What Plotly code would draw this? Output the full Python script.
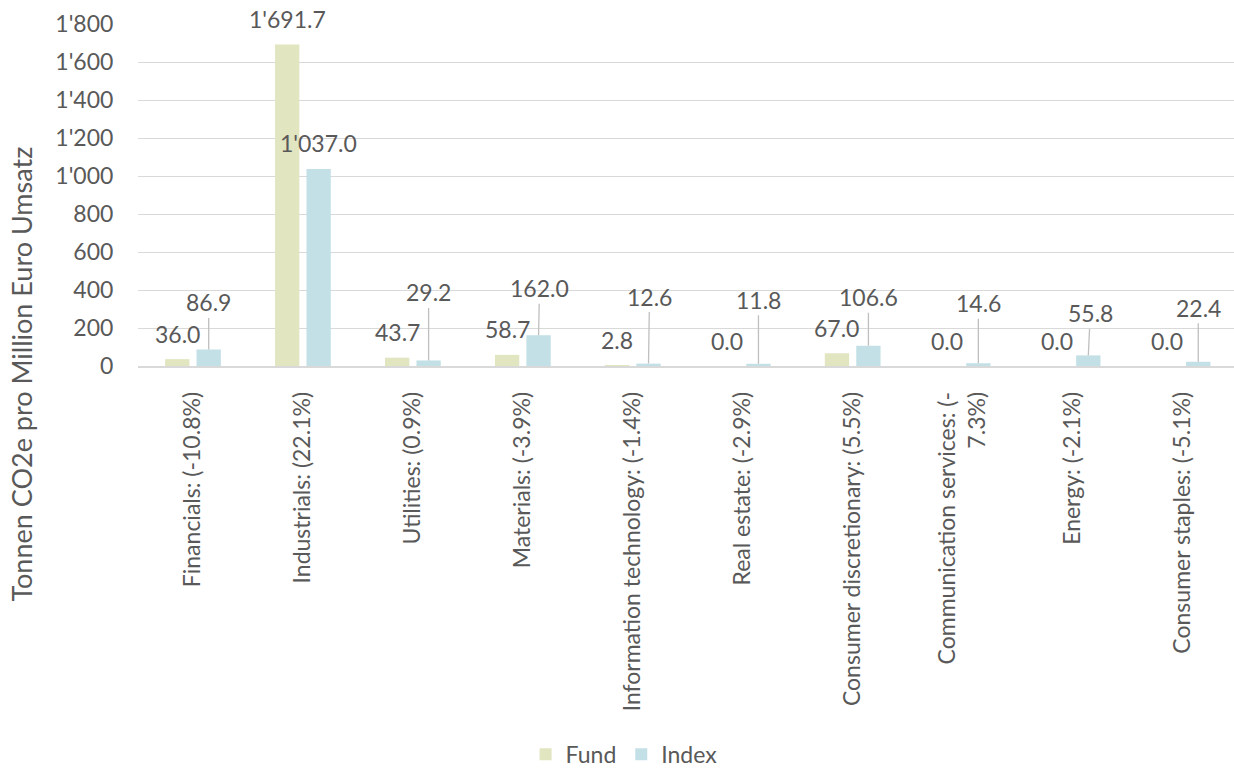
import plotly.graph_objects as go

categories = [
    "Financials: (-10.8%)",
    "Industrials: (22.1%)",
    "Utilities: (0.9%)",
    "Materials: (-3.9%)",
    "Information technology: (-1.4%)",
    "Real estate: (-2.9%)",
    "Consumer discretionary: (5.5%)",
    "Communication services: (-<br>7.3%)",
    "Energy: (-2.1%)",
    "Consumer staples: (-5.1%)",
]
fund = [36.0, 1691.7, 43.7, 58.7, 2.8, 0.0, 67.0, 0.0, 0.0, 0.0]
index_vals = [86.9, 1037.0, 29.2, 162.0, 12.6, 11.8, 106.6, 14.6, 55.8, 22.4]
y_ticks = [0, 200, 400, 600, 800, 1000, 1200, 1400, 1600, 1800]

# label placement (pixels above bar top, horizontal shift) – Excel-style leader lines
index_label_lift = [47, 25.5, 68, 47, 67, 64, 48.5, 60, 42, 54]
index_label_dx = [0, 0, 0, 1, 1, 0, 0, 0, 2, 0]
fund_label_lift = 25.5

FONT = "Lato"
TXT = "#595959"
GRID = "#d9d9d9"
C_FUND = "#e1e5c0"
C_INDEX = "#c3e0e6"
FS = 23

bargap = 0.428
bargroupgap = 0.227
slot = (1 - bargap) / 2


def fmt(v):
    return f"{v:,.1f}".replace(",", "'")


xs = list(range(len(categories)))
fig = go.Figure()
fig.add_trace(go.Bar(x=xs, y=fund, name="Fund", marker=dict(color=C_FUND, line=dict(width=0))))
fig.add_trace(go.Bar(x=xs, y=index_vals, name="Index", marker=dict(color=C_INDEX, line=dict(width=0))))

annotations = []
for i, v in enumerate(fund):
    annotations.append(dict(
        x=i - slot / 2, y=v, xref="x", yref="y", text=fmt(v), showarrow=False,
        yshift=fund_label_lift, xanchor="center", yanchor="middle",
        font=dict(family=FONT, size=FS, color=TXT)))
for i, v in enumerate(index_vals):
    lift = index_label_lift[i]
    if lift <= 26:
        annotations.append(dict(
            x=i + slot / 2, y=v, xref="x", yref="y", text=fmt(v), showarrow=False,
            yshift=lift, xanchor="center", yanchor="middle",
            font=dict(family=FONT, size=FS, color=TXT)))
    else:
        annotations.append(dict(
            x=i + slot / 2, y=v, xref="x", yref="y", text=fmt(v), showarrow=True,
            arrowhead=0, arrowwidth=1.3, arrowcolor="#bfbfbf", standoff=0,
            ax=index_label_dx[i], ay=-lift,
            font=dict(family=FONT, size=FS, color=TXT)))

annotations.append(dict(
    text="Tonnen CO2e pro Million Euro Umsatz", textangle=-90,
    xref="paper", yref="paper", x=-0.1058, y=-0.025, xanchor="center", yanchor="middle",
    showarrow=False, font=dict(family=FONT, size=27, color=TXT)))

fig.update_layout(
    width=1234, height=776,
    margin=dict(l=138, r=0, t=24, b=406),
    paper_bgcolor="white", plot_bgcolor="white",
    barmode="group", bargap=bargap, bargroupgap=bargroupgap,
    separators=".'",
    font=dict(family=FONT, size=FS, color=TXT),
    showlegend=True,
    legend=dict(orientation="h", x=0.4435, y=-1.1356, xanchor="center", yanchor="middle",
                font=dict(family=FONT, size=FS, color=TXT), itemwidth=30,
                tracegroupgap=0),
    annotations=annotations,
)
fig.update_xaxes(
    tickmode="array", tickvals=xs, ticktext=categories, tickangle=-90,
    range=[-0.5, 9.468], showgrid=False, zeroline=False,
    showline=True, linecolor=GRID, linewidth=1.5,
    ticks="outside", ticklen=15, tickcolor="rgba(0,0,0,0)",
    tickfont=dict(family=FONT, size=FS, color=TXT),
)
fig.update_yaxes(
    range=[0, 1800], tickvals=y_ticks, tickformat=",d",
    showgrid=True, gridcolor=GRID, gridwidth=1.3, zeroline=False,
    showline=False, ticks="outside", ticklen=19, tickcolor="rgba(0,0,0,0)",
    tickfont=dict(family=FONT, size=FS, color=TXT),
)

fig.write_html(
    "out.html",
    config={"displayModeBar": False},
    post_script="document.body.style.margin='0';document.body.style.overflow='hidden';",
)
